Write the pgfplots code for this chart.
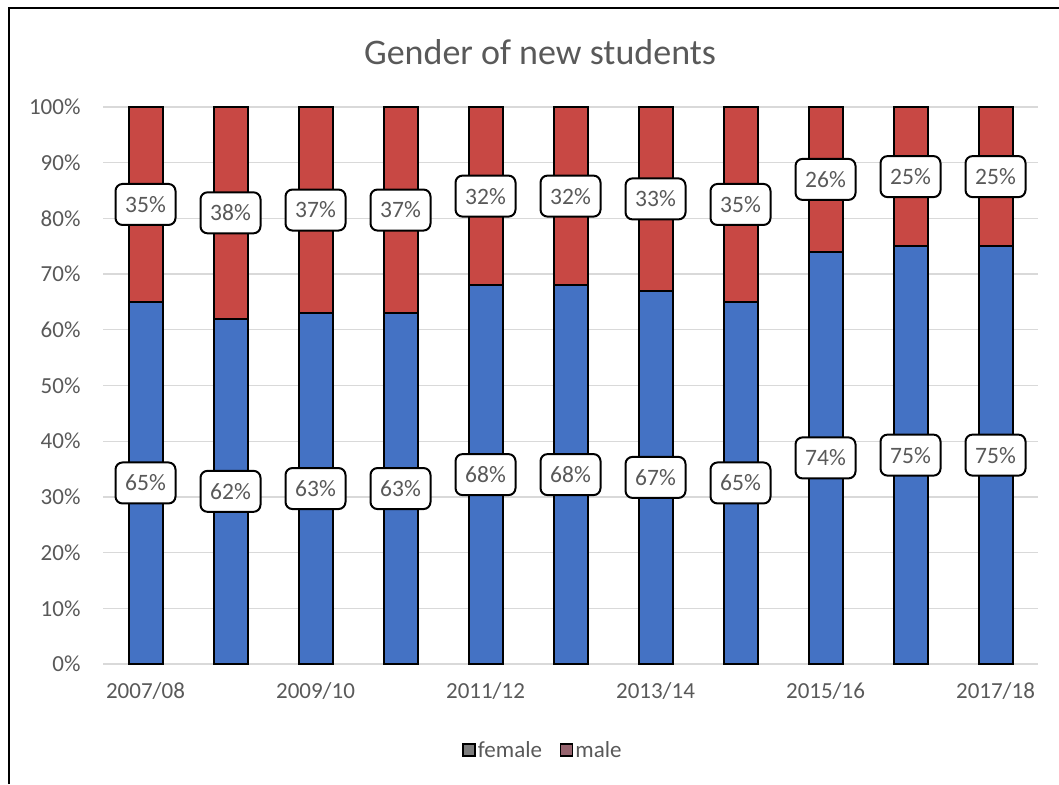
\documentclass[border=0pt]{standalone}
\usepackage{pgfplots}
\pgfplotsset{compat=1.18}
\usepackage{pgfplotstable}
\usepackage{fontspec}
\setmainfont{Carlito}

\definecolor{fem}{RGB}{68,114,196}
\definecolor{mal}{RGB}{200,72,68}
\definecolor{txt}{RGB}{89,89,89}
\definecolor{grd}{RGB}{217,217,217}
\definecolor{legf}{RGB}{125,125,125}
\definecolor{legm}{RGB}{150,100,110}

% share of new students, per cent
\pgfplotstableread{
x  label   f  m
0  2007/08 65 35
1  2008/09 62 38
2  2009/10 63 37
3  2010/11 63 37
4  2011/12 68 32
5  2012/13 68 32
6  2013/14 67 33
7  2014/15 65 35
8  2015/16 74 26
9  2016/17 75 25
10 2017/18 75 25
}\gender

\begin{document}
\begin{tikzpicture}[x=1pt,y=1pt]
\useasboundingbox (0,0) rectangle (1059,784);
\draw[line width=2.5pt] (9,0) -- (9,776) -- (1059,776);
\node[text=txt, font=\fontsize{36}{40}\selectfont] at (540,732) {Gender of new students};
\begin{axis}[
  at={(103pt,120pt)}, anchor=south west,
  scale only axis, width=935pt, height=557pt,
  ybar stacked, bar width=34pt,
  xmin=-0.5, xmax=10.5, ymin=0, ymax=100,
  xtick={0,2,...,10},
  xticklabels={2007/08,2009/10,2011/12,2013/14,2015/16,2017/18},
  ytick={0,10,...,100},
  yticklabel={\pgfmathprintnumber{\tick}\%},
  /pgf/number format/assume math mode=true,
  ymajorgrids, grid style={grd, line width=1.3pt},
  axis line style={draw=none},
  tick style={draw=none},
  tick label style={font=\fontsize{23}{26}\selectfont, text=txt},
  xticklabel style={yshift=-15pt},
  yticklabel style={xshift=-19pt},
  legend style={at={(0.4706,-0.1544)}, anchor=center, draw=none,
    font=\fontsize{23}{26}\selectfont, text=txt,
    /tikz/every even column/.append style={column sep=16pt}},
  legend columns=2,
  every node near coord/.append style={anchor=center, fill=white, draw=black,
    line width=2pt, rounded corners=7pt, text=txt,
    font=\fontsize{23.5}{26}\selectfont, minimum width=60pt, minimum height=41pt,
    inner sep=2pt},
]
\addplot[fill=fem, draw=black, line width=2pt,
  visualization depends on={\thisrow{f} \as \val},
  nodes near coords={\pgfmathprintnumber{\val}\%},
  legend image code/.code={\draw[draw=black, line width=1.5pt, fill=legf] (0pt,-6pt) rectangle (12pt,6pt);}]
  table[x=x, y=f] {\gender};
\addplot[fill=mal, draw=black, line width=2pt,
  visualization depends on={\thisrow{m} \as \val},
  nodes near coords={\pgfmathprintnumber{\val}\%},
  legend image code/.code={\draw[draw=black, line width=1.5pt, fill=legm] (0pt,-6pt) rectangle (12pt,6pt);}]
  table[x=x, y=m] {\gender};
\legend{female, male}
\end{axis}
\end{tikzpicture}
\end{document}
